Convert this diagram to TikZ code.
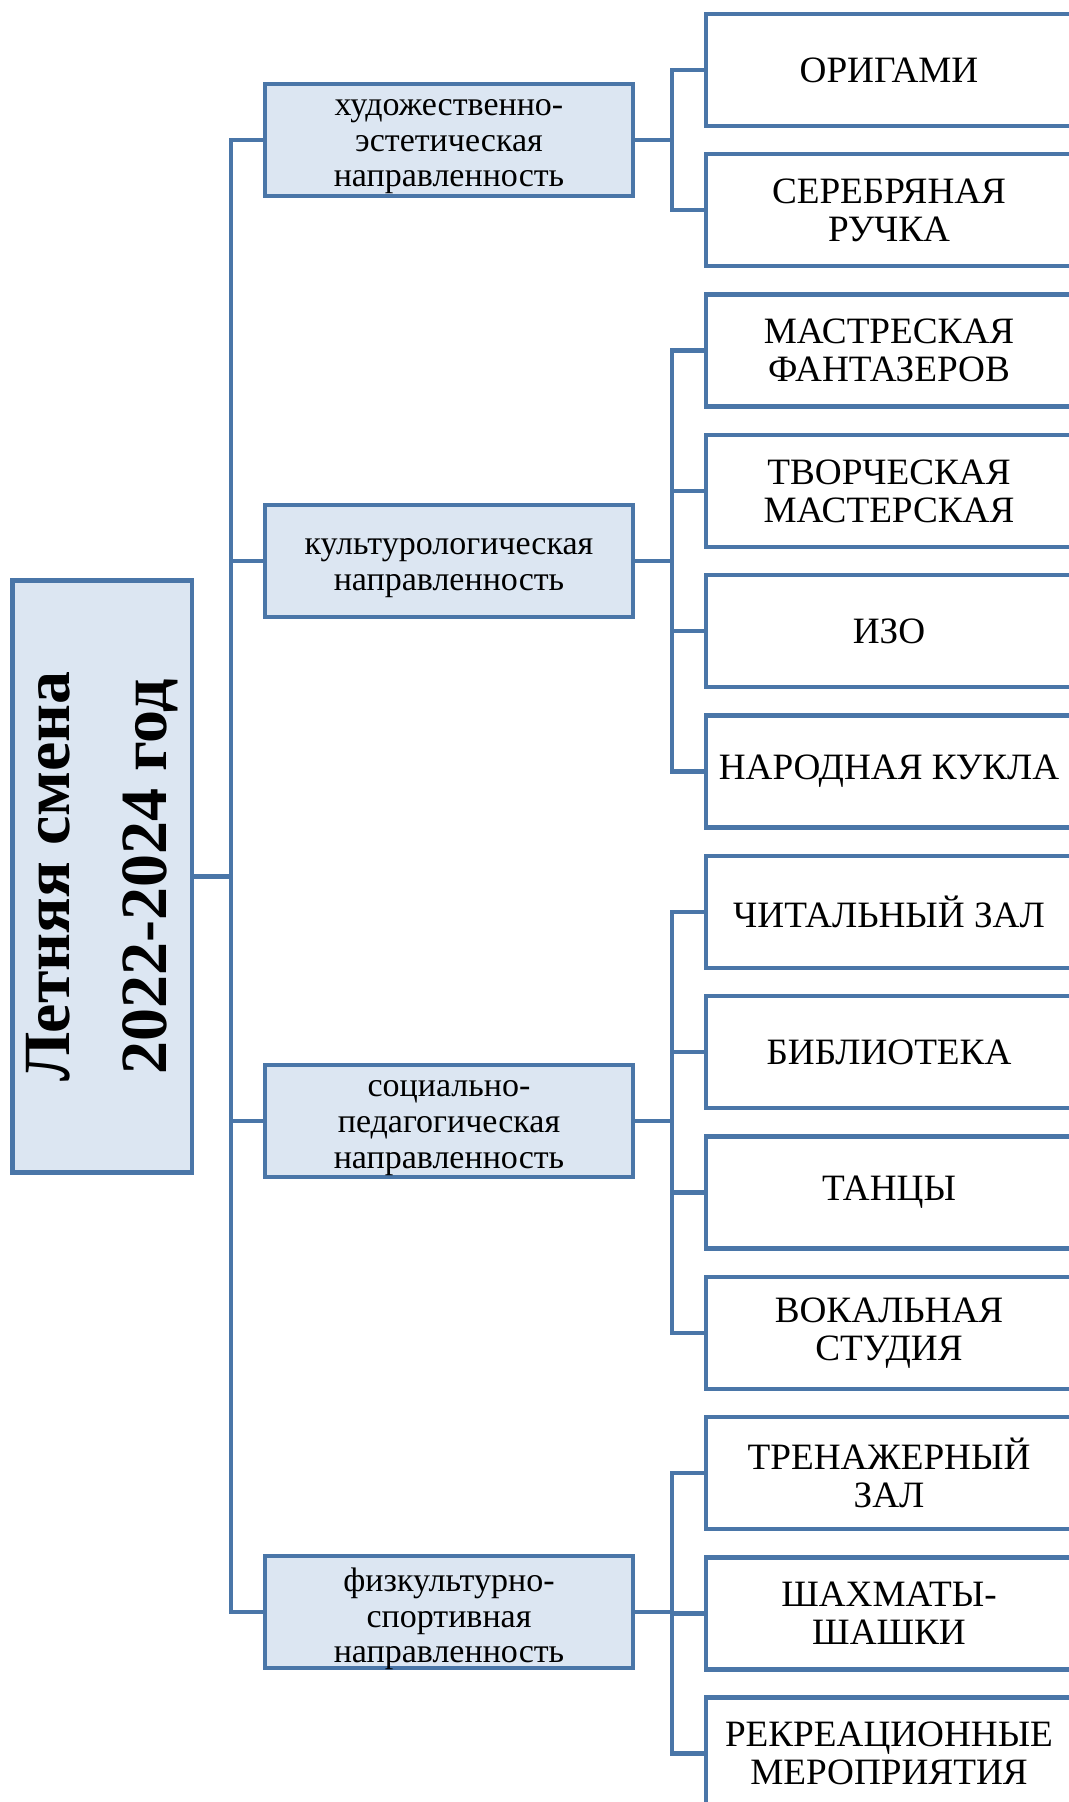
\documentclass[tikz,border=0pt]{standalone}
\usepackage{fontspec}
\setmainfont{Liberation Serif}
\definecolor{frameblue}{RGB}{74, 118, 168}
\definecolor{paleblue}{RGB}{220, 230, 242}
\tikzset{
  rootbox/.style={draw=frameblue, fill=paleblue, line width=2.2pt, align=center,
                  minimum width=296pt, minimum height=89.7pt, inner sep=0pt,
                  font=\fontsize{33}{48.5}\selectfont\bfseries},
  dirbox/.style={draw=frameblue, fill=paleblue, line width=2.2pt,
                 minimum width=183.75pt, minimum height=55.75pt, inner sep=0pt},
  dirtext/.style={align=center, inner sep=0pt, yshift=-3.5pt,
                  font=\fontsize{17}{17.8}\selectfont},
  leafbox/.style={draw=frameblue, fill=white, line width=2.2pt, align=center,
                  minimum width=183pt, minimum height=56pt, inner sep=0pt,
                  font=\fontsize{18.6}{19}\selectfont},
  link/.style={draw=frameblue, line width=2.2pt}
}

\begin{document}
\begin{tikzpicture}[x=0.5pt, y=-0.5pt]
            \useasboundingbox (0,0) rectangle (1069,1802);
            \clip             (0,0) rectangle (1069,1802);
            % root
            \node[rootbox, rotate=90] (root)    at ( 102.3, 876.5) {Летняя смена\\2022-2024 год};
            % directions
            \node[dirbox, label={[dirtext]center:художественно-\\эстетическая\\направленность}] (art)    at ( 449.0, 140.0) {};
            \node[dirbox, label={[dirtext]center:культурологическая\\направленность}]           (cult)   at ( 449.0, 561.0) {};
            \node[dirbox, label={[dirtext]center:социально-\\педагогическая\\направленность}]   (social) at ( 449.0,1121.0) {};
            \node[dirbox, label={[dirtext]center:физкультурно-\\спортивная\\направленность}]    (sport)  at ( 449.0,1612.0) {};
            % clubs
            \node[leafbox]  (origami) at ( 889.0,  70.0) {ОРИГАМИ};
            \node[leafbox]  (pen)     at ( 889.0, 210.3) {СЕРЕБРЯНАЯ\\РУЧКА};
            \node[leafbox]  (dream)   at ( 889.0, 350.6) {МАСТРЕСКАЯ\\ФАНТАЗЕРОВ};
            \node[leafbox]  (craft)   at ( 889.0, 490.9) {ТВОРЧЕСКАЯ\\МАСТЕРСКАЯ};
            \node[leafbox]  (izo)     at ( 889.0, 631.2) {ИЗО};
            \node[leafbox]  (doll)    at ( 889.0, 771.5) {НАРОДНАЯ КУКЛА};
            \node[leafbox]  (reading) at ( 889.0, 911.8) {ЧИТАЛЬНЫЙ ЗАЛ};
            \node[leafbox]  (library) at ( 889.0,1052.1) {БИБЛИОТЕКА};
            \node[leafbox]  (dance)   at ( 889.0,1192.4) {ТАНЦЫ};
            \node[leafbox]  (vocal)   at ( 889.0,1332.7) {ВОКАЛЬНАЯ\\СТУДИЯ};
            \node[leafbox]  (gym)     at ( 889.0,1473.0) {ТРЕНАЖЕРНЫЙ\\ЗАЛ};
            \node[leafbox]  (chess)   at ( 889.0,1613.3) {ШАХМАТЫ-\\ШАШКИ};
            \node[leafbox]  (leisure) at ( 889.0,1753.6) {РЕКРЕАЦИОННЫЕ\\МЕРОПРИЯТИЯ};
            % links
            \draw[link] (root.south)  -- ++(37,0) |- (art.west);
            \draw[link] (root.south)  -- ++(37,0) |- (cult.west);
            \draw[link] (root.south)  -- ++(37,0) |- (social.west);
            \draw[link] (root.south)  -- ++(37,0) |- (sport.west);
            \draw[link] (art.east)    -- ++(37,0) |- (origami.west);
            \draw[link] (art.east)    -- ++(37,0) |- (pen.west);
            \draw[link] (cult.east)   -- ++(37,0) |- (dream.west);
            \draw[link] (cult.east)   -- ++(37,0) |- (craft.west);
            \draw[link] (cult.east)   -- ++(37,0) |- (izo.west);
            \draw[link] (cult.east)   -- ++(37,0) |- (doll.west);
            \draw[link] (social.east) -- ++(37,0) |- (reading.west);
            \draw[link] (social.east) -- ++(37,0) |- (library.west);
            \draw[link] (social.east) -- ++(37,0) |- (dance.west);
            \draw[link] (social.east) -- ++(37,0) |- (vocal.west);
            \draw[link] (sport.east)  -- ++(37,0) |- (gym.west);
            \draw[link] (sport.east)  -- ++(37,0) |- (chess.west);
            \draw[link] (sport.east)  -- ++(37,0) |- (leisure.west);
\end{tikzpicture}
\end{document}
